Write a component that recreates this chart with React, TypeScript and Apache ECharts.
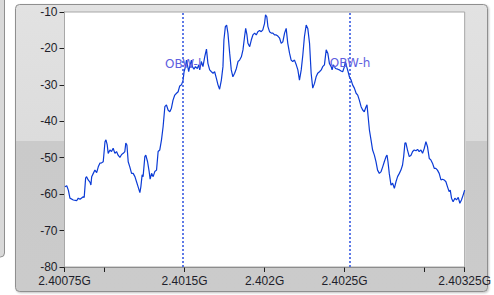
import React, { useEffect, useRef } from 'react';
import * as echarts from 'echarts';

// Frequency in MHz, level in dB
const freqMHz = [
  2400.753, 2400.764, 2400.774, 2400.784, 2400.805, 2400.826, 2400.836, 2400.847, 2400.867, 2400.873,
  2400.882, 2400.888, 2400.898, 2400.909, 2400.915, 2400.920, 2400.930, 2400.940, 2400.951, 2400.961,
  2400.971, 2400.982, 2400.992, 2401.003, 2401.009, 2401.017, 2401.023, 2401.034, 2401.044, 2401.054,
  2401.065, 2401.075, 2401.085, 2401.096, 2401.107, 2401.117, 2401.127, 2401.133, 2401.140, 2401.148,
  2401.158, 2401.169, 2401.179, 2401.190, 2401.200, 2401.210, 2401.221, 2401.227, 2401.235, 2401.241,
  2401.252, 2401.258, 2401.269, 2401.279, 2401.285, 2401.294, 2401.304, 2401.314, 2401.325, 2401.335,
  2401.345, 2401.356, 2401.366, 2401.377, 2401.387, 2401.397, 2401.408, 2401.418, 2401.428, 2401.439,
  2401.450, 2401.460, 2401.470, 2401.481, 2401.491, 2401.497, 2401.506, 2401.512, 2401.518, 2401.526,
  2401.532, 2401.543, 2401.549, 2401.559, 2401.568, 2401.580, 2401.589, 2401.595, 2401.605, 2401.615,
  2401.626, 2401.637, 2401.646, 2401.657, 2401.668, 2401.678, 2401.688, 2401.699, 2401.709, 2401.719,
  2401.730, 2401.740, 2401.746, 2401.755, 2401.763, 2401.771, 2401.782, 2401.792, 2401.802, 2401.813,
  2401.824, 2401.834, 2401.844, 2401.855, 2401.865, 2401.875, 2401.882, 2401.890, 2401.896, 2401.907,
  2401.917, 2401.927, 2401.938, 2401.948, 2401.958, 2401.969, 2401.979, 2401.989, 2402.000, 2402.006,
  2402.014, 2402.021, 2402.031, 2402.042, 2402.052, 2402.062, 2402.073, 2402.083, 2402.094, 2402.104,
  2402.114, 2402.125, 2402.135, 2402.145, 2402.156, 2402.166, 2402.176, 2402.187, 2402.198, 2402.208,
  2402.218, 2402.229, 2402.239, 2402.249, 2402.260, 2402.270, 2402.281, 2402.291, 2402.301, 2402.312,
  2402.322, 2402.332, 2402.343, 2402.354, 2402.363, 2402.374, 2402.385, 2402.395, 2402.405, 2402.416,
  2402.422, 2402.430, 2402.443, 2402.457, 2402.468, 2402.478, 2402.488, 2402.499, 2402.505, 2402.513,
  2402.522, 2402.530, 2402.541, 2402.550, 2402.561, 2402.572, 2402.582, 2402.592, 2402.603, 2402.613,
  2402.623, 2402.634, 2402.640, 2402.647, 2402.655, 2402.665, 2402.675, 2402.686, 2402.696, 2402.706,
  2402.717, 2402.728, 2402.738, 2402.748, 2402.759, 2402.765, 2402.771, 2402.779, 2402.790, 2402.800,
  2402.811, 2402.821, 2402.831, 2402.842, 2402.852, 2402.862, 2402.869, 2402.877, 2402.883, 2402.893,
  2402.904, 2402.915, 2402.925, 2402.935, 2402.946, 2402.956, 2402.966, 2402.977, 2402.987, 2402.998,
  2403.008, 2403.018, 2403.029, 2403.039, 2403.049, 2403.060, 2403.070, 2403.080, 2403.091, 2403.102,
  2403.112, 2403.122, 2403.133, 2403.143, 2403.153, 2403.160, 2403.168, 2403.178, 2403.189, 2403.199,
  2403.210, 2403.220, 2403.230, 2403.241, 2403.250,
];

const levelDb = [
  -58.0, -57.7, -58.9, -61.1, -61.6, -61.8, -61.1, -61.4, -60.7, -60.9,
  -55.6, -55.2, -56.1, -56.7, -57.5, -55.2, -54.3, -53.4, -54.1, -52.5,
  -51.5, -51.4, -51.1, -45.6, -45.1, -46.5, -48.8, -47.9, -48.3, -47.4,
  -48.8, -48.3, -49.3, -49.9, -49.1, -48.8, -48.3, -46.0, -46.5, -51.1,
  -52.5, -54.3, -54.3, -55.2, -56.6, -58.0, -59.6, -58.0, -54.7, -55.2,
  -49.7, -49.3, -51.1, -53.8, -55.9, -54.3, -55.2, -53.8, -53.4, -48.3,
  -47.9, -45.1, -41.5, -36.0, -35.5, -36.9, -37.4, -36.4, -34.2, -32.8,
  -32.3, -31.9, -30.3, -30.0, -28.7, -26.4, -25.0, -23.2, -24.5, -26.4,
  -25.0, -23.2, -25.0, -25.7, -25.0, -25.5, -24.5, -25.9, -23.6, -25.0,
  -22.3, -20.2, -24.1, -25.9, -26.4, -26.8, -26.4, -28.2, -30.0, -31.2,
  -28.7, -25.0, -17.7, -14.0, -13.6, -15.8, -21.3, -25.9, -27.8, -26.8,
  -25.5, -23.6, -23.2, -22.3, -20.4, -16.8, -14.5, -16.3, -18.6, -19.5,
  -17.7, -16.3, -15.8, -16.3, -15.4, -15.1, -15.4, -14.9, -13.1, -10.8,
  -11.3, -14.0, -15.4, -15.8, -15.8, -16.3, -16.3, -16.6, -17.2, -18.6,
  -18.2, -15.8, -14.5, -18.6, -21.3, -23.2, -23.6, -23.2, -24.5, -25.9,
  -28.7, -25.9, -21.8, -16.8, -13.6, -14.5, -18.6, -26.8, -30.9, -29.6,
  -27.8, -26.8, -26.4, -25.9, -25.0, -24.5, -20.4, -21.3, -24.1, -25.0,
  -25.9, -24.5, -25.5, -25.7, -25.9, -26.2, -26.4, -25.0, -23.6, -25.0,
  -26.4, -27.8, -28.7, -30.0, -30.9, -32.3, -32.8, -34.2, -36.0, -36.9,
  -37.4, -36.0, -35.5, -38.7, -42.4, -45.1, -47.9, -49.3, -51.1, -53.4,
  -54.3, -53.8, -52.5, -51.1, -49.7, -49.3, -51.1, -54.3, -57.5, -57.0,
  -58.4, -56.6, -55.2, -54.3, -53.4, -52.0, -49.7, -46.0, -45.9, -47.9,
  -49.7, -49.3, -48.3, -47.9, -48.1, -47.7, -48.3, -47.9, -48.8, -47.4,
  -45.6, -47.0, -50.2, -50.6, -51.5, -52.9, -52.9, -53.4, -54.3, -56.1,
  -55.9, -56.1, -56.6, -58.0, -59.3, -58.9, -61.1, -62.1, -61.1, -61.6,
  -60.9, -62.5, -61.6, -60.2, -58.9,
];

const obwNames = ['OBW-l', 'OBW-h'];
const obwFreqMHz = [2401.491, 2402.534];
const obwLabelDb = [-24.2, -24.1];

const xMin = 2400.75;
const xMax = 2403.25;
const xTickValues = [2400.75, 2401, 2401.5, 2402, 2402.5, 2403, 2403.25];
const xLabelValues = [2400.75, 2401.5, 2402, 2402.5, 2403.25];
const yMin = -80;
const yMax = -10;
const yStep = 10;

const fmtG = (v: number) => parseFloat((v / 1000).toFixed(6)) + 'G';

export default function App() {
  const ref = useRef<HTMLDivElement>(null);
  useEffect(() => {
    if (!ref.current) return;
    const chart = echarts.init(ref.current, null, { renderer: 'svg' });
    const labelFont = { fontFamily: '"Liberation Sans", Arial, sans-serif', fontSize: 12, color: '#1e1e2a' };
    chart.setOption({
      animation: false,
      backgroundColor: '#ffffff',
      graphic: [
        {
          type: 'rect',
          z: -10,
          shape: { x: -8, y: -8, width: 12.5, height: 265, r: 4 },
          style: { fill: '#d9d9d9', stroke: '#8f8f8f', lineWidth: 1 },
        },
        {
          type: 'rect',
          z: -10,
          shape: { x: 15.5, y: 4.5, width: 472, height: 287, r: 4 },
          style: {
            fill: new echarts.graphic.LinearGradient(0, 0, 0, 1, [
              { offset: 0, color: '#e2e2e2' },
              { offset: 0.476, color: '#dcdcdc' },
              { offset: 0.477, color: '#cacaca' },
              { offset: 1, color: '#cbcbcb' },
            ]),
            stroke: '#8f8f8f',
            lineWidth: 1,
            shadowColor: 'rgba(0,0,0,0.25)',
            shadowBlur: 2,
            shadowOffsetX: 1,
            shadowOffsetY: 1,
          },
        },
      ],
      grid: {
        left: 64.5,
        right: 28,
        top: 12,
        bottom: 28,
        show: true,
        backgroundColor: '#ffffff',
        borderColor: '#a8a8a8',
        borderWidth: 1,
        z: 1,
      },
      xAxis: {
        type: 'value',
        min: xMin,
        max: xMax,
        axisLine: { show: true, lineStyle: { color: '#707070', width: 1 } },
        axisTick: {
          show: true,
          length: 5,
          customValues: xTickValues,
          lineStyle: { color: '#202020' },
        },
        axisLabel: {
          ...labelFont,
          margin: 8,
          customValues: xLabelValues,
          formatter: (v: number) => fmtG(v),
        },
        splitLine: { show: true, lineStyle: { color: '#dedede', width: 1.5 } },
      },
      yAxis: {
        type: 'value',
        min: yMin,
        max: yMax,
        interval: yStep,
        axisLine: { show: true, lineStyle: { color: '#707070', width: 1 } },
        axisTick: { show: true, length: 5, lineStyle: { color: '#202020' } },
        axisLabel: { ...labelFont, margin: 7 },
        splitLine: { show: true, lineStyle: { color: '#dedede', width: 1.5 } },
      },
      series: [
        {
          type: 'line',
          z: 3,
          data: freqMHz.map((f, i) => [f, levelDb[i]]),
          showSymbol: false,
          symbol: 'none',
          lineStyle: { color: '#0b3bd6', width: 1.2 },
          markLine: {
            silent: true,
            symbol: 'none',
            label: { show: false },
            lineStyle: { color: '#2a4fe0', type: [2, 2], width: 1.5 },
            data: obwFreqMHz.map((f) => ({ xAxis: f })),
          },
          markPoint: {
            silent: true,
            symbol: 'circle',
            symbolSize: 0,
            label: {
              show: true,
              position: 'inside',
              fontFamily: '"DejaVu Sans", Verdana, sans-serif',
              fontSize: 12,
              color: '#6060e0',
              formatter: (p: any) => p.name,
            },
            data: obwNames.map((n, i) => ({ name: n, coord: [obwFreqMHz[i], obwLabelDb[i]] })),
          },
        },
      ],
    });
    return () => chart.dispose();
  }, []);
  return (
    <div
      ref={ref}
      style={{ position: 'fixed', left: 0, top: 0, width: 494, height: 295 }}
    />
  );
}
